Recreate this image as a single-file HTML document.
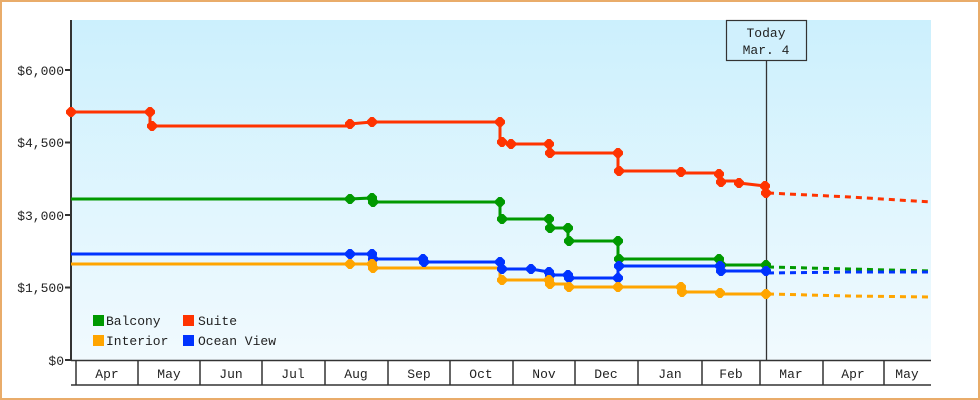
<!DOCTYPE html>
<html><head><meta charset="utf-8"><style>
html,body{margin:0;padding:0;background:#fff}
svg{display:block}
text{font-family:"Liberation Mono","DejaVu Sans Mono",monospace;font-size:13px;fill:#222}
</style></head><body>
<svg width="980" height="400" viewBox="0 0 980 400" xmlns="http://www.w3.org/2000/svg">
<defs>
<linearGradient id="bg" x1="0" y1="0" x2="0" y2="1"><stop offset="0" stop-color="#ccf0fd"/><stop offset="1" stop-color="#f1fafe"/></linearGradient>
<path id="d" d="M-1.5,-5L1.5,-5L5,-1.5L5,1.5L1.5,5L-1.5,5L-5,1.5L-5,-1.5Z"/>
</defs>
<rect x="1" y="1" width="978" height="398" fill="#fff" stroke="#e9ac6a" stroke-width="2"/>
<rect x="71" y="20" width="860" height="340" fill="url(#bg)"/>
<line x1="71" y1="20" x2="71" y2="361" stroke="#333" stroke-width="2"/>
<g stroke="#333" stroke-width="2">
<line x1="65" y1="70" x2="71" y2="70"/><line x1="65" y1="142.5" x2="71" y2="142.5"/><line x1="65" y1="215" x2="71" y2="215"/><line x1="65" y1="287.5" x2="71" y2="287.5"/><line x1="65" y1="360" x2="71" y2="360"/>
</g>
<g text-anchor="end">
<text x="64" y="75">$6,000</text><text x="64" y="147">$4,500</text><text x="64" y="220">$3,000</text><text x="64" y="292">$1,500</text><text x="64" y="365">$0</text>
</g>
<g stroke="#333" stroke-width="1.5" fill="none">
<line x1="71" y1="360.5" x2="931" y2="360.5"/><line x1="71" y1="385" x2="931" y2="385"/>
<line x1="76" y1="360" x2="76" y2="385"/><line x1="138" y1="360" x2="138" y2="385"/><line x1="200" y1="360" x2="200" y2="385"/><line x1="262" y1="360" x2="262" y2="385"/><line x1="325" y1="360" x2="325" y2="385"/><line x1="388" y1="360" x2="388" y2="385"/><line x1="450" y1="360" x2="450" y2="385"/><line x1="513" y1="360" x2="513" y2="385"/><line x1="575" y1="360" x2="575" y2="385"/><line x1="638" y1="360" x2="638" y2="385"/><line x1="702" y1="360" x2="702" y2="385"/><line x1="760" y1="360" x2="760" y2="385"/><line x1="823" y1="360" x2="823" y2="385"/><line x1="884" y1="360" x2="884" y2="385"/>
</g>
<g text-anchor="middle">
<text x="107" y="378">Apr</text><text x="169" y="378">May</text><text x="231" y="378">Jun</text><text x="293" y="378">Jul</text><text x="356" y="378">Aug</text><text x="419" y="378">Sep</text><text x="481" y="378">Oct</text><text x="544" y="378">Nov</text><text x="606" y="378">Dec</text><text x="670" y="378">Jan</text><text x="731" y="378">Feb</text><text x="791" y="378">Mar</text><text x="853" y="378">Apr</text><text x="907" y="378">May</text>
</g>
<line x1="766.5" y1="60" x2="766.5" y2="360" stroke="#333" stroke-width="1.3"/>
<rect x="726.5" y="20.5" width="80" height="40" fill="#d0f0fd" stroke="#333" stroke-width="1.2"/>
<text x="766" y="37" text-anchor="middle">Today</text><text x="766" y="54" text-anchor="middle">Mar. 4</text>
<g fill="none" stroke-width="3">
<polyline stroke="#ff3300" points="71,112 150,112 150,126 349,126 349,124 372,122 500,122 500,142 511,144 549,144 549,153 618,153 618,171 681,171 681,173 719,173 719,181 739,181 739,183 765,186 765,193"/>
<polyline stroke="#009900" points="71,199 349,199 372,198 372,202 500,202 500,219 549,219 549,228 568,228 568,241 618,241 618,259 719,259 720,265 766,265"/>
<polyline stroke="#0033ff" points="71,254 350,254 372,254 372,259 423,259 423,262 500,262 500,269 531,269 549,272 549,275 568,275 568,278 618,278 618,266 720,266 720,271 766,271"/>
<polyline stroke="#ffa500" points="71,264 350,264 372,264 372,268 500,268 500,280 549,280 549,284 568,284 568,287 681,287 681,292 720,292 720,294 766,294"/>
</g>
<g fill="none" stroke-width="3" stroke-dasharray="6,5">
<polyline stroke="#ff3300" points="768,193 850,197 931,202"/>
<polyline stroke="#009900" points="768,267 850,269 931,271"/>
<polyline stroke="#0033ff" points="768,273 850,272 931,272"/>
<polyline stroke="#ffa500" points="768,294 850,296 931,297"/>
</g>
<g fill="#ff3300"><use href="#d" x="71" y="112"/><use href="#d" x="150" y="112"/><use href="#d" x="152" y="126"/><use href="#d" x="350" y="124"/><use href="#d" x="372" y="122"/><use href="#d" x="500" y="122"/><use href="#d" x="502" y="142"/><use href="#d" x="511" y="144"/><use href="#d" x="549" y="144"/><use href="#d" x="550" y="153"/><use href="#d" x="618" y="153"/><use href="#d" x="619" y="171"/><use href="#d" x="681" y="172"/><use href="#d" x="719" y="174"/><use href="#d" x="721" y="182"/><use href="#d" x="739" y="183"/><use href="#d" x="765" y="186"/><use href="#d" x="766" y="193"/></g>
<g fill="#009900"><use href="#d" x="350" y="199"/><use href="#d" x="372" y="198"/><use href="#d" x="373" y="202"/><use href="#d" x="500" y="202"/><use href="#d" x="502" y="219"/><use href="#d" x="549" y="219"/><use href="#d" x="550" y="228"/><use href="#d" x="568" y="228"/><use href="#d" x="569" y="241"/><use href="#d" x="618" y="241"/><use href="#d" x="619" y="259"/><use href="#d" x="719" y="259"/><use href="#d" x="721" y="265"/><use href="#d" x="766" y="265"/></g>
<g fill="#0033ff"><use href="#d" x="350" y="254"/><use href="#d" x="372" y="254"/><use href="#d" x="373" y="259"/><use href="#d" x="423" y="259"/><use href="#d" x="424" y="262"/><use href="#d" x="500" y="262"/><use href="#d" x="502" y="269"/><use href="#d" x="531" y="269"/><use href="#d" x="549" y="272"/><use href="#d" x="550" y="275"/><use href="#d" x="568" y="275"/><use href="#d" x="569" y="278"/><use href="#d" x="618" y="278"/><use href="#d" x="619" y="266"/><use href="#d" x="720" y="266"/><use href="#d" x="721" y="271"/><use href="#d" x="766" y="271"/></g>
<g fill="#ffa500"><use href="#d" x="350" y="264"/><use href="#d" x="372" y="264"/><use href="#d" x="373" y="268"/><use href="#d" x="502" y="280"/><use href="#d" x="549" y="280"/><use href="#d" x="550" y="284"/><use href="#d" x="569" y="287"/><use href="#d" x="618" y="287"/><use href="#d" x="681" y="287"/><use href="#d" x="682" y="292"/><use href="#d" x="720" y="293"/><use href="#d" x="766" y="294"/></g>
<rect x="93" y="315" width="11" height="11" fill="#009900"/><text x="106" y="325">Balcony</text>
<rect x="183" y="315" width="11" height="11" fill="#ff3300"/><text x="198" y="325">Suite</text>
<rect x="93" y="335" width="11" height="11" fill="#ffa500"/><text x="106" y="345">Interior</text>
<rect x="183" y="335" width="11" height="11" fill="#0033ff"/><text x="198" y="345">Ocean View</text>
</svg>
</body></html>
